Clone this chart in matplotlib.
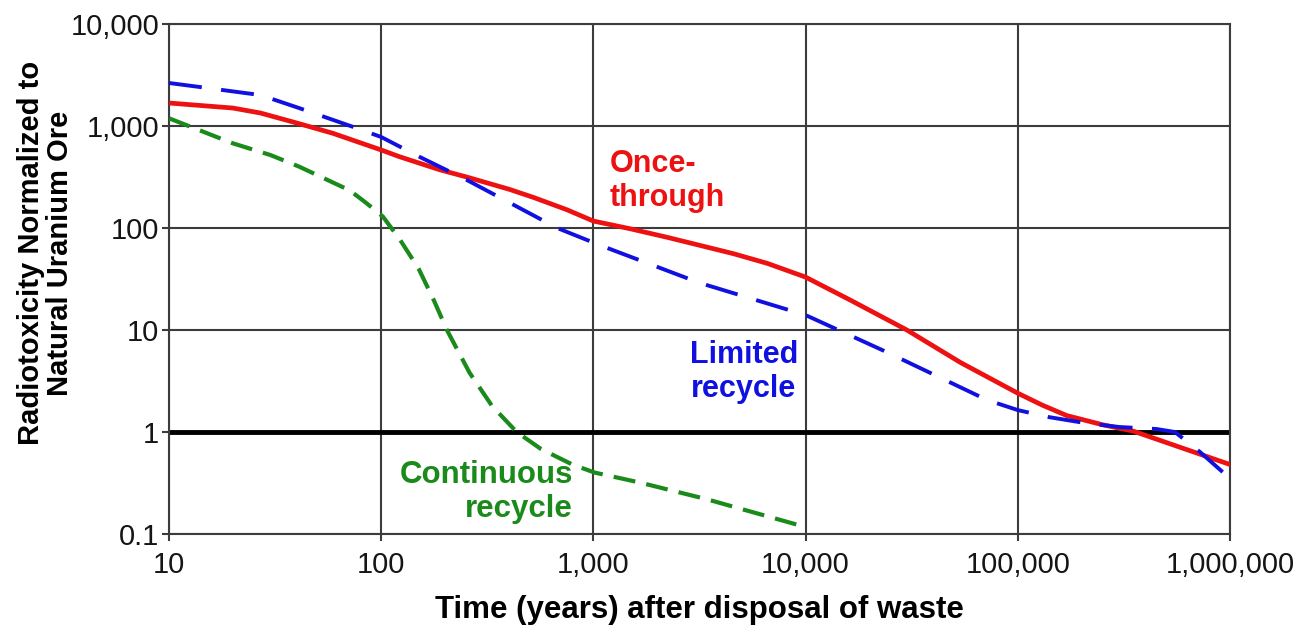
import matplotlib
matplotlib.use("Agg")
import matplotlib.pyplot as plt
from matplotlib.ticker import FixedLocator, NullLocator
from matplotlib.transforms import IdentityTransform

plt.rcParams['font.family'] = ['Liberation Sans', 'DejaVu Sans']

# ---- data ----
once_x = [10, 20, 27, 40, 59, 100, 122, 189, 253, 400, 520, 750, 1000, 1500, 2230, 4570, 6600,
          10000, 16200, 30000, 53700, 100000, 130000, 170000, 250000, 350000, 1000000]
once_y = [1680, 1500, 1340, 1070, 850, 582, 500, 372, 316, 240, 200, 151, 117, 98, 81, 56, 45,
          33, 19.7, 10, 4.8, 2.4, 1.84, 1.45, 1.18, 1.02, 0.48]

limited_x = [10, 14, 27, 41, 74, 100, 152, 253, 675, 1070, 3160, 10000, 24000, 71600,
             100000, 140000, 205000, 300000, 450000, 550000, 720000, 1000000]
limited_y = [2640, 2410, 2010, 1500, 977, 780, 497, 296, 100, 68, 29, 14, 6.1, 2.06,
             1.64, 1.4, 1.23, 1.12, 1.07, 1.0, 0.64, 0.35]

cont_x = [10, 20, 30, 41, 71, 85, 102, 123, 150, 177, 204, 261, 333, 435, 567, 796,
          1014, 1650, 3400, 10000]
cont_y = [1190, 676, 520, 400, 234, 176, 129, 76, 40, 19.6, 10, 3.8, 1.8, 1.0, 0.68,
          0.48, 0.40, 0.32, 0.22, 0.117]

x_ticks = [10, 100, 1000, 10000, 100000, 1000000]
x_labels = ["10", "100", "1,000", "10,000", "100,000", "1,000,000"]
y_ticks = [0.1, 1, 10, 100, 1000, 10000]
y_labels = ["0.1", "1", "10", "100", "1,000", "10,000"]

W, H = 1316, 632
fig = plt.figure(figsize=(W / 100, H / 100), dpi=100)
ax = fig.add_axes([169 / W, 1 - 534 / H, (1230 - 169) / W, (534 - 24) / H])
ax.set_xscale('log')
ax.set_yscale('log')
ax.set_xlim(10, 1000000)
ax.set_ylim(0.1, 10000)

grid_c = '#3c3c3c'
ax.xaxis.set_major_locator(FixedLocator(x_ticks))
ax.yaxis.set_major_locator(FixedLocator(y_ticks))
ax.xaxis.set_minor_locator(NullLocator())
ax.yaxis.set_minor_locator(NullLocator())
ax.set_xticklabels(x_labels)
ax.set_yticklabels(y_labels)
ax.grid(True, color=grid_c, linewidth=1.5)
ax.set_axisbelow(True)
for s in ax.spines.values():
    s.set_color(grid_c)
    s.set_linewidth(1.5)
ax.tick_params(axis='both', labelsize=21, color=grid_c, length=5, width=1.5,
               labelcolor='#151515')
ax.tick_params(axis='x', pad=7)
ax.tick_params(axis='y', pad=2)

ax.axhline(1, color='black', linewidth=3.5, zorder=2)

ax.plot(once_x, once_y, color='#ee1111', linewidth=3.4, zorder=4,
        solid_joinstyle='round')
ax.plot(limited_x, limited_y, color='#1010e0', linewidth=2.8, zorder=5,
        dashes=(8.5, 5))
ax.plot(cont_x, cont_y, color='#1a8a1a', linewidth=3.0, zorder=3,
        dashes=(5.3, 2.7))

ax.text(610, H - 181, "Once-\nthrough", transform=IdentityTransform(), color='#ee1111',
        fontsize=22, fontweight='bold', ha='left', va='center', linespacing=1.15)
ax.text(798, H - 372, "Limited\nrecycle", transform=IdentityTransform(), color='#1010e0',
        fontsize=22, fontweight='bold', ha='right', va='center', multialignment='center',
        linespacing=1.15)
ax.text(573, H - 492, "Continuous\nrecycle", transform=IdentityTransform(), color='#1a8a1a',
        fontsize=22.5, fontweight='bold', ha='right', va='center', multialignment='right',
        linespacing=1.15)

ax.set_xlabel("Time (years) after disposal of waste", fontsize=22.5, fontweight='bold',
              labelpad=12)
ax.set_ylabel("Radiotoxicity Normalized to\nNatural Uranium Ore", fontsize=21,
              fontweight='bold', linespacing=1.05)
ax.yaxis.set_label_coords(-(169 - 74) / (1230 - 169), (534 - 253) / 510)

fig.savefig("out.png", dpi=100, facecolor='white')
